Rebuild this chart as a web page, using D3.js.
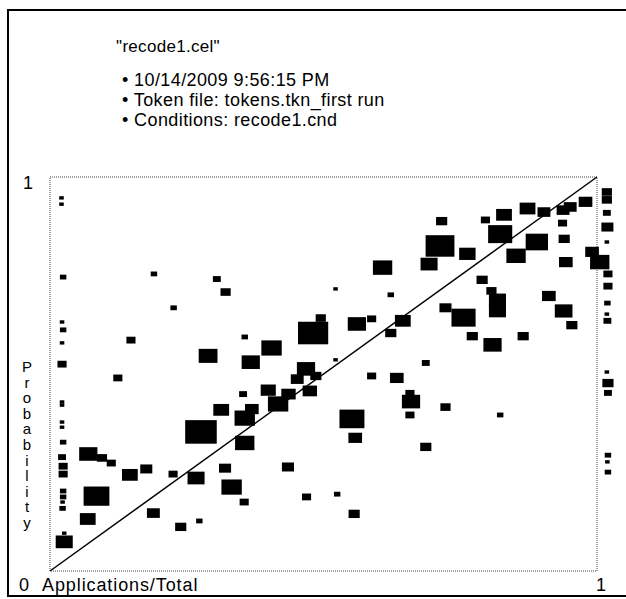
<!DOCTYPE html>
<html>
<head>
<meta charset="utf-8">
<script src="https://cdn.jsdelivr.net/npm/d3@7"></script>
<style>
  body { margin: 0; background: white; }
  text { font-family: "Liberation Sans", Arial, sans-serif; fill: black; }
</style>
</head>
<body>
<div id="plot"></div>
<script>
// cel plot: probability vs applications/total, box size = token count

const w = 626;
const h = 599;
const margin = {top: 177, right: 29, bottom: 28, left: 50};

const title = "\"recode1.cel\"";
const notes = ["10/14/2009 9:56:15 PM", "Token file: tokens.tkn_first run", "Conditions: recode1.cnd"];
const xLabel = "Applications/Total";
const yLabel = "Probability";
const tickLabels = ["0", "1"];

// x = applications/total, y = probability, n = token count
const appRatio = [
  0.021, 0.021, 0.024, 0.022, 0.024, 0.022, 0.022, 0.022, 0.022, 0.022, 0.022, 0.024, 0.022, 0.024, 0.024, 0.024, 0.024, 0.023, 0.023, 0.026, 0.026,
  1.018, 1.018, 1.018, 1.019, 1.018, 0.991, 1.005, 1.02, 1.02, 1.019, 1.018, 1.019, 1.018, 1.02, 1.02, 1.02, 1.019, 1.02,
  0.19, 0.305, 0.321, 0.226, 0.148, 0.289, 0.124, 0.608, 0.522, 0.623, 0.561, 0.588, 0.481, 0.495, 0.645, 0.623, 0.356, 0.405, 0.367, 0.522, 0.468, 0.452, 0.486, 0.588, 0.634,
  0.716, 0.796, 0.83, 0.873, 0.903, 0.938, 0.951, 0.979, 0.823, 0.89, 0.937, 0.94, 0.713, 0.693, 0.763, 0.852, 0.943, 0.79, 0.807, 0.818, 0.818, 0.912, 0.723, 0.756, 0.939, 0.954, 0.772, 0.865, 0.809, 0.687,
  0.07, 0.095, 0.112, 0.146, 0.176, 0.085, 0.069, 0.189, 0.225, 0.239, 0.273, 0.276, 0.267, 0.313, 0.32, 0.332, 0.353, 0.399, 0.436, 0.475, 0.369, 0.356, 0.417, 0.552, 0.558, 0.66, 0.658, 0.658, 0.723, 0.823, 0.687, 0.356, 0.435, 0.355, 0.469, 0.525, 0.556
];
const probability = [
  0.947, 0.931, 0.746, 0.632, 0.612, 0.579, 0.525, 0.429, 0.421, 0.378, 0.365, 0.327, 0.289, 0.266, 0.246, 0.203, 0.188, 0.175, 0.159, 0.096, 0.074,
  0.962, 0.942, 0.909, 0.873, 0.835, 0.81, 0.784, 0.754, 0.723, 0.68, 0.652, 0.635, 0.505, 0.477, 0.452, 0.294, 0.277, 0.251,
  0.754, 0.741, 0.708, 0.668, 0.586, 0.546, 0.49, 0.77, 0.716, 0.701, 0.627, 0.64, 0.604, 0.642, 0.635, 0.604, 0.594, 0.566, 0.53, 0.536, 0.513, 0.487, 0.495, 0.495, 0.49,
  0.888, 0.891, 0.904, 0.92, 0.911, 0.916, 0.924, 0.937, 0.855, 0.835, 0.883, 0.843, 0.825, 0.779, 0.805, 0.8, 0.784, 0.739, 0.711, 0.688, 0.66, 0.698, 0.668, 0.643, 0.66, 0.624, 0.596, 0.596, 0.574, 0.528,
  0.297, 0.287, 0.274, 0.244, 0.259, 0.19, 0.132, 0.147, 0.246, 0.112, 0.127, 0.353, 0.236, 0.409, 0.261, 0.213, 0.449, 0.459, 0.449, 0.457, 0.411, 0.388, 0.424, 0.386, 0.338, 0.43, 0.451, 0.396, 0.416, 0.396, 0.315, 0.325, 0.264, 0.175, 0.188, 0.195, 0.145
];
const tokenCount = [
  1, 1, 2, 1, 2, 1, 4, 1, 1, 1, 1, 2, 3, 4, 4, 2, 2, 1, 2, 1, 14,
  5, 5, 3, 7, 1, 9, 18, 4, 4, 2, 1, 3, 1, 6, 3, 2, 1, 2,
  2, 3, 5, 2, 4, 17, 4, 18, 1, 2, 16, 4, 44, 5, 12, 6, 2, 20, 16, 1, 16, 8, 6, 4, 9,
  6, 4, 12, 12, 8, 8, 8, 9, 28, 24, 4, 6, 40, 14, 13, 18, 9, 6, 5, 14, 14, 9, 7, 28, 15, 6, 6, 6, 16, 3,
  16, 5, 4, 12, 7, 32, 12, 8, 4, 6, 2, 48, 14, 12, 7, 20, 3, 11, 10, 10, 9, 20, 20, 30, 9, 16, 4, 4, 5, 2, 6, 18, 7, 4, 4, 2, 6
];

const points = appRatio.map((d, i) => ({x: d, y: probability[i], n: tokenCount[i]}));

const svg = d3.select("div#plot")
  .append("svg")
  .attr("width", w)
  .attr("height", h);

svg.append("rect")
  .attr("width", w)
  .attr("height", h)
  .attr("fill", "white");

// outer frame (left, top, bottom)
svg.append("path")
  .attr("d", "M626,10 H8 V596 H626")
  .attr("fill", "none")
  .attr("stroke", "black")
  .attr("stroke-width", 2);

const xScale = d3.scaleLinear().domain([0, 1]).range([margin.left, w - margin.right]);
const yScale = d3.scaleLinear().domain([0, 1]).range([571, margin.top]);
const hScale = d3.scaleSqrt().domain([0, 1]).range([0, 3.4]);

// dotted plot box
svg.append("rect")
  .attr("x", xScale(0))
  .attr("y", yScale(1))
  .attr("width", xScale(1) - xScale(0))
  .attr("height", yScale(0) - yScale(1))
  .attr("fill", "none")
  .attr("stroke", "#444")
  .attr("stroke-width", 1)
  .attr("stroke-dasharray", "1,1");

// boxes, a bit wider than tall
svg.selectAll(".box")
  .data(points)
  .enter()
  .append("rect")
  .attr("class", "box")
  .attr("x", d => xScale(d.x) - hScale(d.n) * 0.67)
  .attr("y", d => yScale(d.y) - hScale(d.n) / 2)
  .attr("width", d => hScale(d.n) * 1.34)
  .attr("height", d => hScale(d.n))
  .attr("fill", "black");

// diagonal
svg.append("line")
  .attr("x1", xScale(0)).attr("y1", yScale(0))
  .attr("x2", xScale(1)).attr("y2", yScale(1))
  .attr("stroke", "black")
  .attr("stroke-width", 1.5);

// header
svg.append("text")
  .attr("x", 168)
  .attr("y", 52)
  .attr("text-anchor", "middle")
  .style("font-size", "17px")
  .style("letter-spacing", "0.3px")
  .text(title);

svg.selectAll(".note")
  .data(notes)
  .enter()
  .append("text")
  .attr("class", "note")
  .attr("x", 122)
  .attr("y", (d, i) => 86 + i * 20)
  .style("font-size", "18px")
  .style("letter-spacing", "0.4px")
  .text(d => "\u2022 " + d);

// axis labels
svg.append("text")
  .attr("x", 28).attr("y", 189)
  .attr("text-anchor", "middle")
  .style("font-size", "18px")
  .text(tickLabels[1]);

svg.append("text")
  .attr("x", 24).attr("y", 591)
  .attr("text-anchor", "middle")
  .style("font-size", "18px")
  .text(tickLabels[0]);

svg.append("text")
  .attr("x", 601).attr("y", 591)
  .attr("text-anchor", "middle")
  .style("font-size", "18px")
  .text(tickLabels[1]);

svg.append("text")
  .attr("x", 42).attr("y", 591)
  .style("font-size", "18px")
  .style("letter-spacing", "0.9px")
  .text(xLabel);

svg.selectAll(".ylab")
  .data(yLabel.split(""))
  .enter()
  .append("text")
  .attr("class", "ylab")
  .attr("x", 27)
  .attr("y", (d, i) => 372 + i * 15.6)
  .attr("text-anchor", "middle")
  .style("font-size", "15px")
  .text(d => d);
</script>
</body>
</html>
